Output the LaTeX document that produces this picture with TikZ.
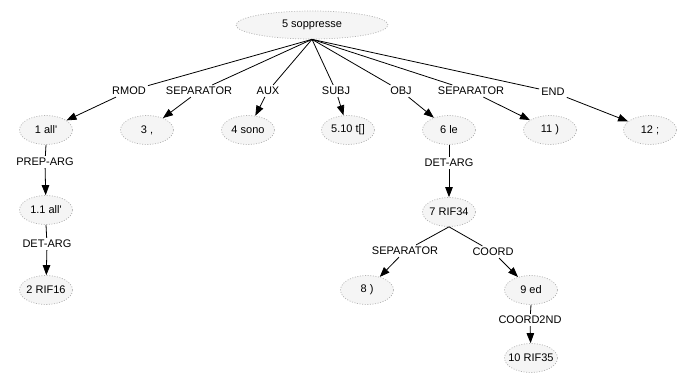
\documentclass[tikz,border=0pt]{standalone}
\usepackage{fontspec}
\setmainfont{Liberation Sans}[Ligatures=TeXOff]
\usetikzlibrary{arrows.meta,shapes.geometric}
\newcommand{\zb}[1]{\makebox[0pt][c]{#1}}
\begin{document}
\begin{tikzpicture}[x=1pt,y=1pt,
  tok/.style={ellipse, draw=black!30, line width=0.7pt, dash pattern=on 1pt off 1.6pt,
    fill=black!4, inner sep=0pt,
    minimum width=53pt, minimum height=29pt, font=\fontsize{11}{13}\selectfont},
  rel/.style={inner sep=2pt, font=\fontsize{11}{13}\selectfont},
  ln/.style={line width=0.8pt},
  arr/.style={line width=0.8pt, -{Triangle[length=10pt,width=7.5pt]}}]
\useasboundingbox (0,0) rectangle (685,-374);
% nodes
\node[tok, minimum width=152pt, minimum height=28pt] (root) at (312,-25) {5 soppresse};
\node[tok] (n1) at (46,-130) {\zb{1 all'}};
\node[tok] (n3) at (147,-130) {\zb{3 ,}};
\node[tok] (n4) at (248,-130) {\zb{4 sono}};
\node[tok] (n510) at (348,-130) {\zb{5.10 t[]}};
\node[tok] (n6) at (449,-130) {\zb{6 le}};
\node[tok] (n11) at (550,-130) {\zb{11 )}};
\node[tok] (n12) at (650,-130) {\zb{12 ;}};
\node[tok] (n11b) at (46,-210) {\zb{1.1 all'}};
\node[tok] (n2) at (46,-290) {\zb{2 RIF16}};
\node[tok] (n7) at (449,-212) {\zb{7 RIF34}};
\node[tok] (n8) at (367,-290) {\zb{8 )}};
\node[tok] (n9) at (531,-290) {\zb{9 ed}};
\node[tok] (n10) at (531,-358) {\zb{10 RIF35}};
% labels
\node[rel] (lrmod) at (129,-91) {RMOD};
\node[rel] (lsep1) at (199,-91) {SEPARATOR};
\node[rel] (laux) at (268,-91) {AUX};
\node[rel] (lsubj) at (336,-91) {SUBJ};
\node[rel] (lobj) at (401,-91) {OBJ};
\node[rel] (lsep2) at (471,-91) {SEPARATOR};
\node[rel] (lend) at (553,-92) {END};
\node[rel] (lprep) at (45,-162) {PREP-ARG};
\node[rel] (ldet1) at (47,-244) {DET-ARG};
\node[rel] (ldet2) at (449,-163) {DET-ARG};
\node[rel] (lsep3) at (405,-251) {SEPARATOR};
\node[rel] (lcoord) at (493,-252) {COORD};
\node[rel] (lc2) at (530,-320) {COORD2ND};
% edges
\foreach \l/\c in {lrmod/n1, lsep1/n3, laux/n4, lsubj/n510, lobj/n6, lsep2/n11, lend/n12} {
  \draw[ln] (root.south) -- (\l);
  \draw[arr] (\l) -- (\c);
}
\draw[ln] (n1.south) -- (lprep);
\draw[arr] (lprep) -- (n11b);
\draw[ln] (n11b.south) -- (ldet1);
\draw[arr] (ldet1) -- (n2);
\draw[ln] (n6.south) -- (ldet2);
\draw[arr] (ldet2) -- (n7);
\draw[ln] (n7.south) -- (lsep3);
\draw[arr] (lsep3) -- (n8);
\draw[ln] (n7.south) -- (lcoord);
\draw[arr] (lcoord) -- (n9);
\draw[ln] (n9.south) -- (lc2);
\draw[arr] (lc2) -- (n10);
\end{tikzpicture}
\end{document}
